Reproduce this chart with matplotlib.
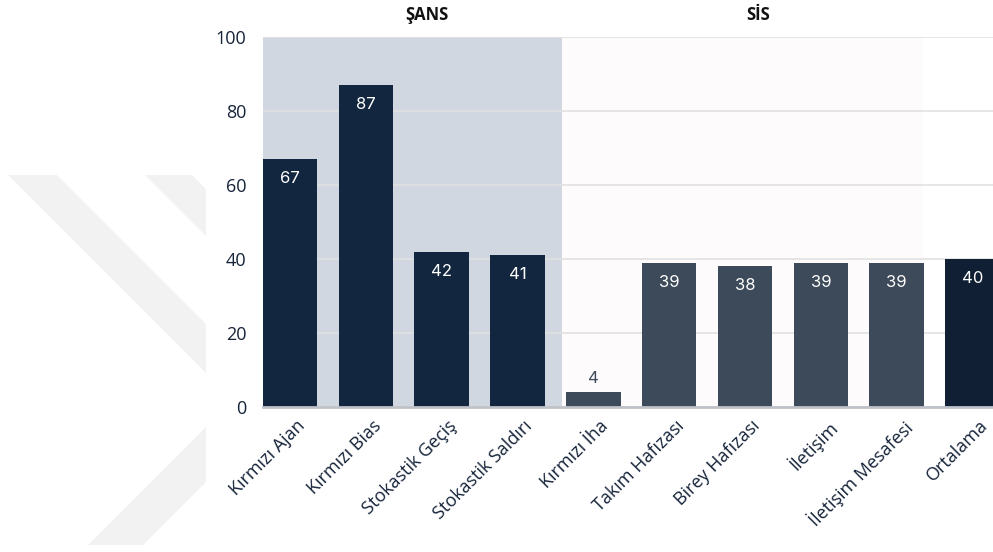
import matplotlib
matplotlib.use("Agg")
import matplotlib.pyplot as plt
from matplotlib.patches import Polygon
from matplotlib.transforms import ScaledTranslation
import numpy as np

categories = ["Kırmızı Ajan", "Kırmızı Bias", "Stokastik Geçiş", "Stokastik Saldırı",
              "Kırmızı İha", "Takım Hafızası", "Birey Hafızası", "İletişim",
              "İletişim Mesafesi", "Ortalama"]
values = [67, 87, 42, 41, 4, 39, 38, 39, 39, 40]
groups = ["ŞANS", "ŞANS", "ŞANS", "ŞANS", "SİS", "SİS", "SİS", "SİS", "SİS", "ORT"]
yticks = [0, 20, 40, 60, 80, 100]

group_colors = {"ŞANS": "#12263f", "SİS": "#3d4a59", "ORT": "#101f33"}
text_color = "#16243a"
tick_font = "Open Sans"
value_font = "Inter"

W, H, DPI = 993, 552, 100
fig = plt.figure(figsize=(W / DPI, H / DPI), dpi=DPI)
fig.patch.set_facecolor("white")

# faint diagonal watermark on the left margin (pixel coords -> figure fraction)
def fig_poly(pts, **kw):
    xy = [(x / W, 1 - y / H) for x, y in pts]
    fig.patches.append(Polygon(xy, closed=True, transform=fig.transFigure, **kw))

wm = dict(facecolor="#f2f2f2", edgecolor="none", zorder=0)
fig_poly([(8, 175), (57, 175), (206, 324), (206, 373)], **wm)
fig_poly([(145, 175), (192, 175), (206, 189), (206, 236)], **wm)
fig_poly([(88, 545), (143, 545), (206, 482), (206, 427)], **wm)

ax = fig.add_axes([263 / W, 1 - 407 / H, (W - 263) / W, (407 - 37) / H])
ax.set_facecolor("none")

x = np.arange(len(categories))
bw = 0.72
ax.set_xlim(-0.356, 9.27)
ax.set_ylim(0, 100)

# group background bands
ax.axvspan(-0.356, 3.59, color="#d0d7e1", zorder=0, lw=0)
ax.axvspan(3.59, 8.35, color="#fdfbfc", zorder=0, lw=0)

ax.set_yticks(yticks)
ax.yaxis.grid(True, color="#e1e1e1", lw=1.2, zorder=1)
ax.set_axisbelow(True)

colors = [group_colors[g] for g in groups]
bars = ax.bar(x, values, width=bw, color=colors, zorder=3)

for xi, v in zip(x, values):
    if v >= 10:
        ax.annotate(str(v), (xi, v), xytext=(0, -14), textcoords="offset points",
                    ha="center", va="center", color="white", fontsize=12,
                    family=value_font, zorder=4)
    else:
        ax.annotate(str(v), (xi, v), xytext=(0, 10), textcoords="offset points",
                    ha="center", va="center", color="#3d4a59", fontsize=12,
                    family=value_font, zorder=4)

for s in ["left", "right", "top"]:
    ax.spines[s].set_visible(False)
ax.spines["bottom"].set_color("#bfc3c9")
ax.spines["bottom"].set_linewidth(2)
ax.spines["bottom"].set_zorder(5)

ax.tick_params(axis="both", length=0)
ax.tick_params(axis="y", pad=12, labelsize=13, labelcolor=text_color)
ax.set_yticklabels([str(t) for t in yticks], family=tick_font)
ax.set_xticks(x)
ax.set_xticklabels(categories, rotation=45, ha="right", va="top",
                   rotation_mode="anchor", fontsize=13, color=text_color,
                   family=tick_font)
ax.tick_params(axis="x", pad=7)
shift = ScaledTranslation(6 / DPI, 0, fig.dpi_scale_trans)
for lbl in ax.get_xticklabels():
    lbl.set_transform(lbl.get_transform() + shift)

# group headers
hdr = dict(ha="center", va="center", fontsize=12, fontweight="bold",
           color="#111111", family="Open Sans")
ax.text(1.81, 1.0 + 22 / 370, "ŞANS", transform=ax.get_xaxis_transform(), **hdr)
ax.text(6.17, 1.0 + 22 / 370, "SİS", transform=ax.get_xaxis_transform(), **hdr)

fig.savefig("out.png", dpi=DPI, facecolor="white")
